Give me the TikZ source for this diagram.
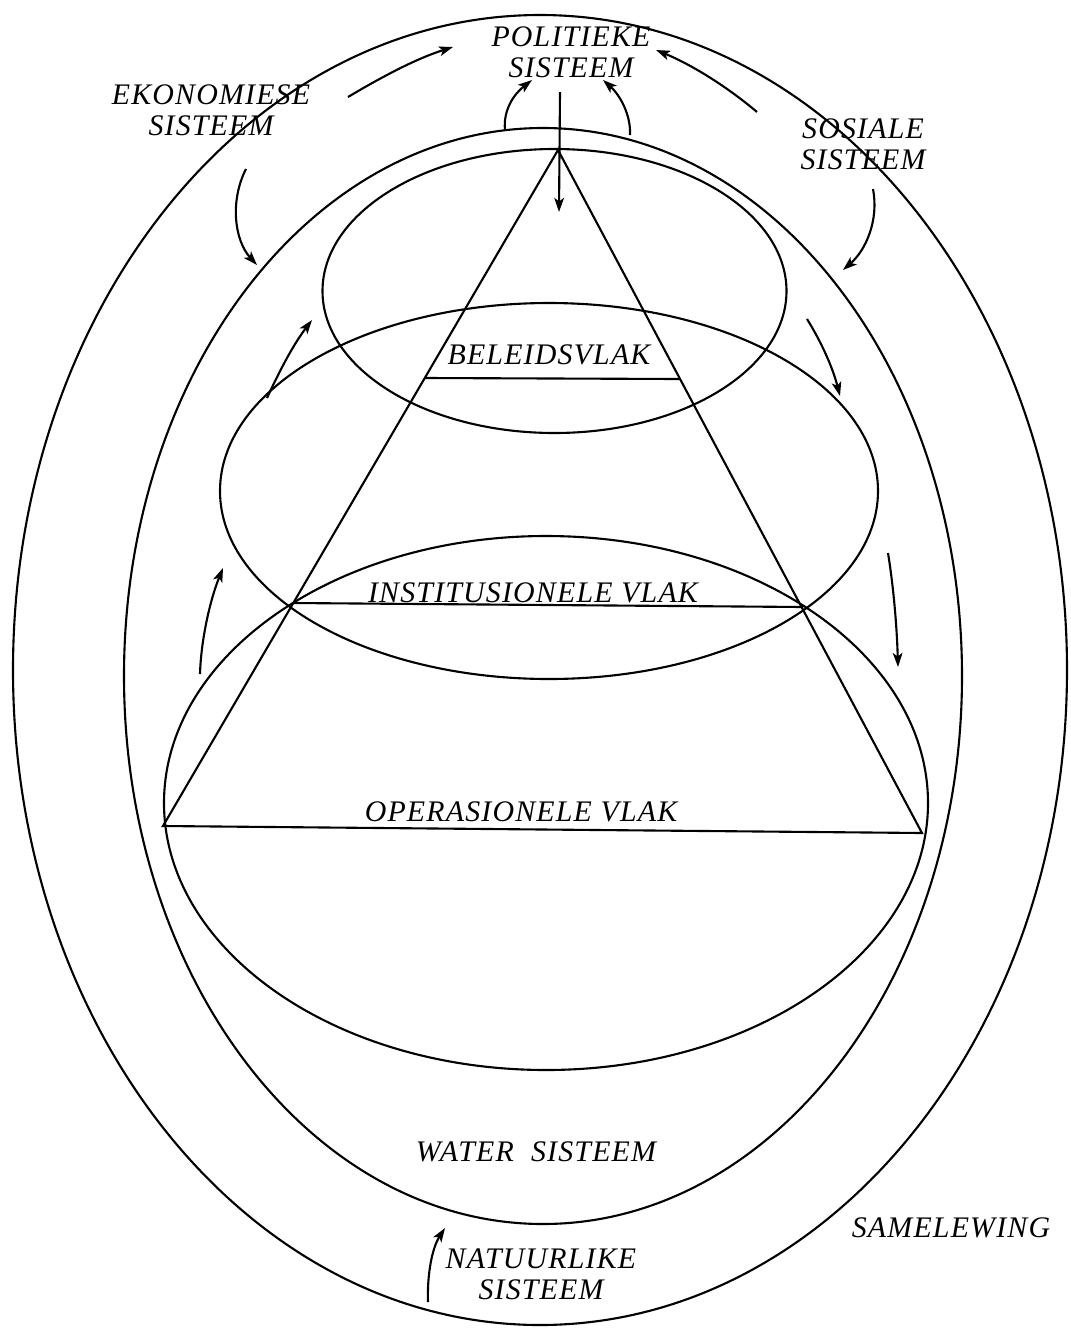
\documentclass[tikz,border=0pt]{standalone}
\usepackage{fontspec}
\setmainfont{Liberation Serif}
\newfontfamily\labfont{Liberation Serif}[LetterSpace=4]
\usetikzlibrary{arrows.meta}
\begin{document}
\begin{tikzpicture}[x=0.02cm,y=-0.02cm,
  line width=1.2pt,
  flow/.style={line width=1.2pt,-{Stealth[length=8pt,width=5.5pt,inset=2pt]}},
  lab/.style={inner sep=0pt,align=center,font=\labfont\itshape\fontsize{17}{17.5}\selectfont}]
\useasboundingbox (0,0) rectangle (1071,1329);
% enclosing systems
\draw (540,670) ellipse [x radius=527, y radius=655];
\draw (543,676) ellipse [x radius=419, y radius=548];
% three levels
\draw (554.5,291) ellipse [x radius=232, y radius=142];
\draw (549,491) ellipse [x radius=329, y radius=188];
\draw (546,803) ellipse [x radius=382, y radius=267];
% pyramid
\coordinate (apex) at (558,150);
\coordinate (bl) at (163,826);
\coordinate (br) at (922,833);
\draw (bl) -- (apex) -- (br) -- cycle;
\coordinate (b1) at (425,378);
\coordinate (b2) at (680,379);
\draw (b1) -- (b2);
\coordinate (i1) at (293,603);
\coordinate (i2) at (803,607);
\draw (i1) -- (i2);
% labels
\node[lab] (pol) at (571,52) {POLITIEKE\\SISTEEM};
\node[lab] (eko) at (211,110) {EKONOMIESE\\SISTEEM};
\node[lab] (sos) at (863,144) {SOSIALE\\SISTEEM};
\node[lab] (bel) at (549,355) {BELEIDSVLAK};
\node[lab] (ins) at (533,593) {INSTITUSIONELE VLAK};
\node[lab] (ope) at (521,812) {OPERASIONELE VLAK};
\node[lab] (wat) at (536,1152) {WATER\ \ SISTEEM};
\node[lab] (nat) at (541,1274) {NATUURLIKE\\SISTEEM};
\node[lab] (sam) at (951,1228) {SAMELEWING};
% arrow end points
\coordinate (a1s) at (348,97);   \coordinate (a1e) at (453,47);
\coordinate (a2s) at (505,130);  \coordinate (a2e) at (532,80);
\coordinate (a3s) at (630,135);  \coordinate (a3e) at (603,80);
\coordinate (a4s) at (560,92);   \coordinate (a4e) at (559,212);
\coordinate (a5s) at (757,112);  \coordinate (a5e) at (656,50);
\coordinate (a6s) at (246,169);  \coordinate (a6e) at (257,265);
\coordinate (a7s) at (873,189);  \coordinate (a7e) at (843,270);
\coordinate (a8s) at (807,319);  \coordinate (a8e) at (840,396);
\coordinate (a9s) at (888,553);  \coordinate (a9e) at (898,667);
\coordinate (a10s) at (267,398); \coordinate (a10e) at (312,320);
\coordinate (a11s) at (200,674); \coordinate (a11e) at (223,568);
\coordinate (a12s) at (428,1302);\coordinate (a12e) at (445,1228);
% arrows
\draw[flow] (a1s) .. controls (380,78) and (415,59) .. (a1e);
\draw[flow] (a2s) .. controls (503,110) and (514,94) .. (a2e);
\draw[flow] (a3s) .. controls (631,115) and (620,95) .. (a3e);
\draw[flow] (a4s) -- (a4e);
\draw[flow] (a5s) .. controls (725,85) and (690,64) .. (a5e);
\draw[flow] (a6s) .. controls (230,200) and (234,240) .. (a6e);
\draw[flow] (a7s) .. controls (879,220) and (866,250) .. (a7e);
\draw[flow] (a8s) .. controls (820,340) and (832,365) .. (a8e);
\draw[flow] (a9s) .. controls (894,590) and (897,630) .. (a9e);
\draw[flow] (a10s) .. controls (280,370) and (293,345) .. (a10e);
\draw[flow] (a11s) .. controls (201,640) and (210,600) .. (a11e);
\draw[flow] (a12s) .. controls (427,1275) and (432,1248) .. (a12e);
\end{tikzpicture}
\end{document}
